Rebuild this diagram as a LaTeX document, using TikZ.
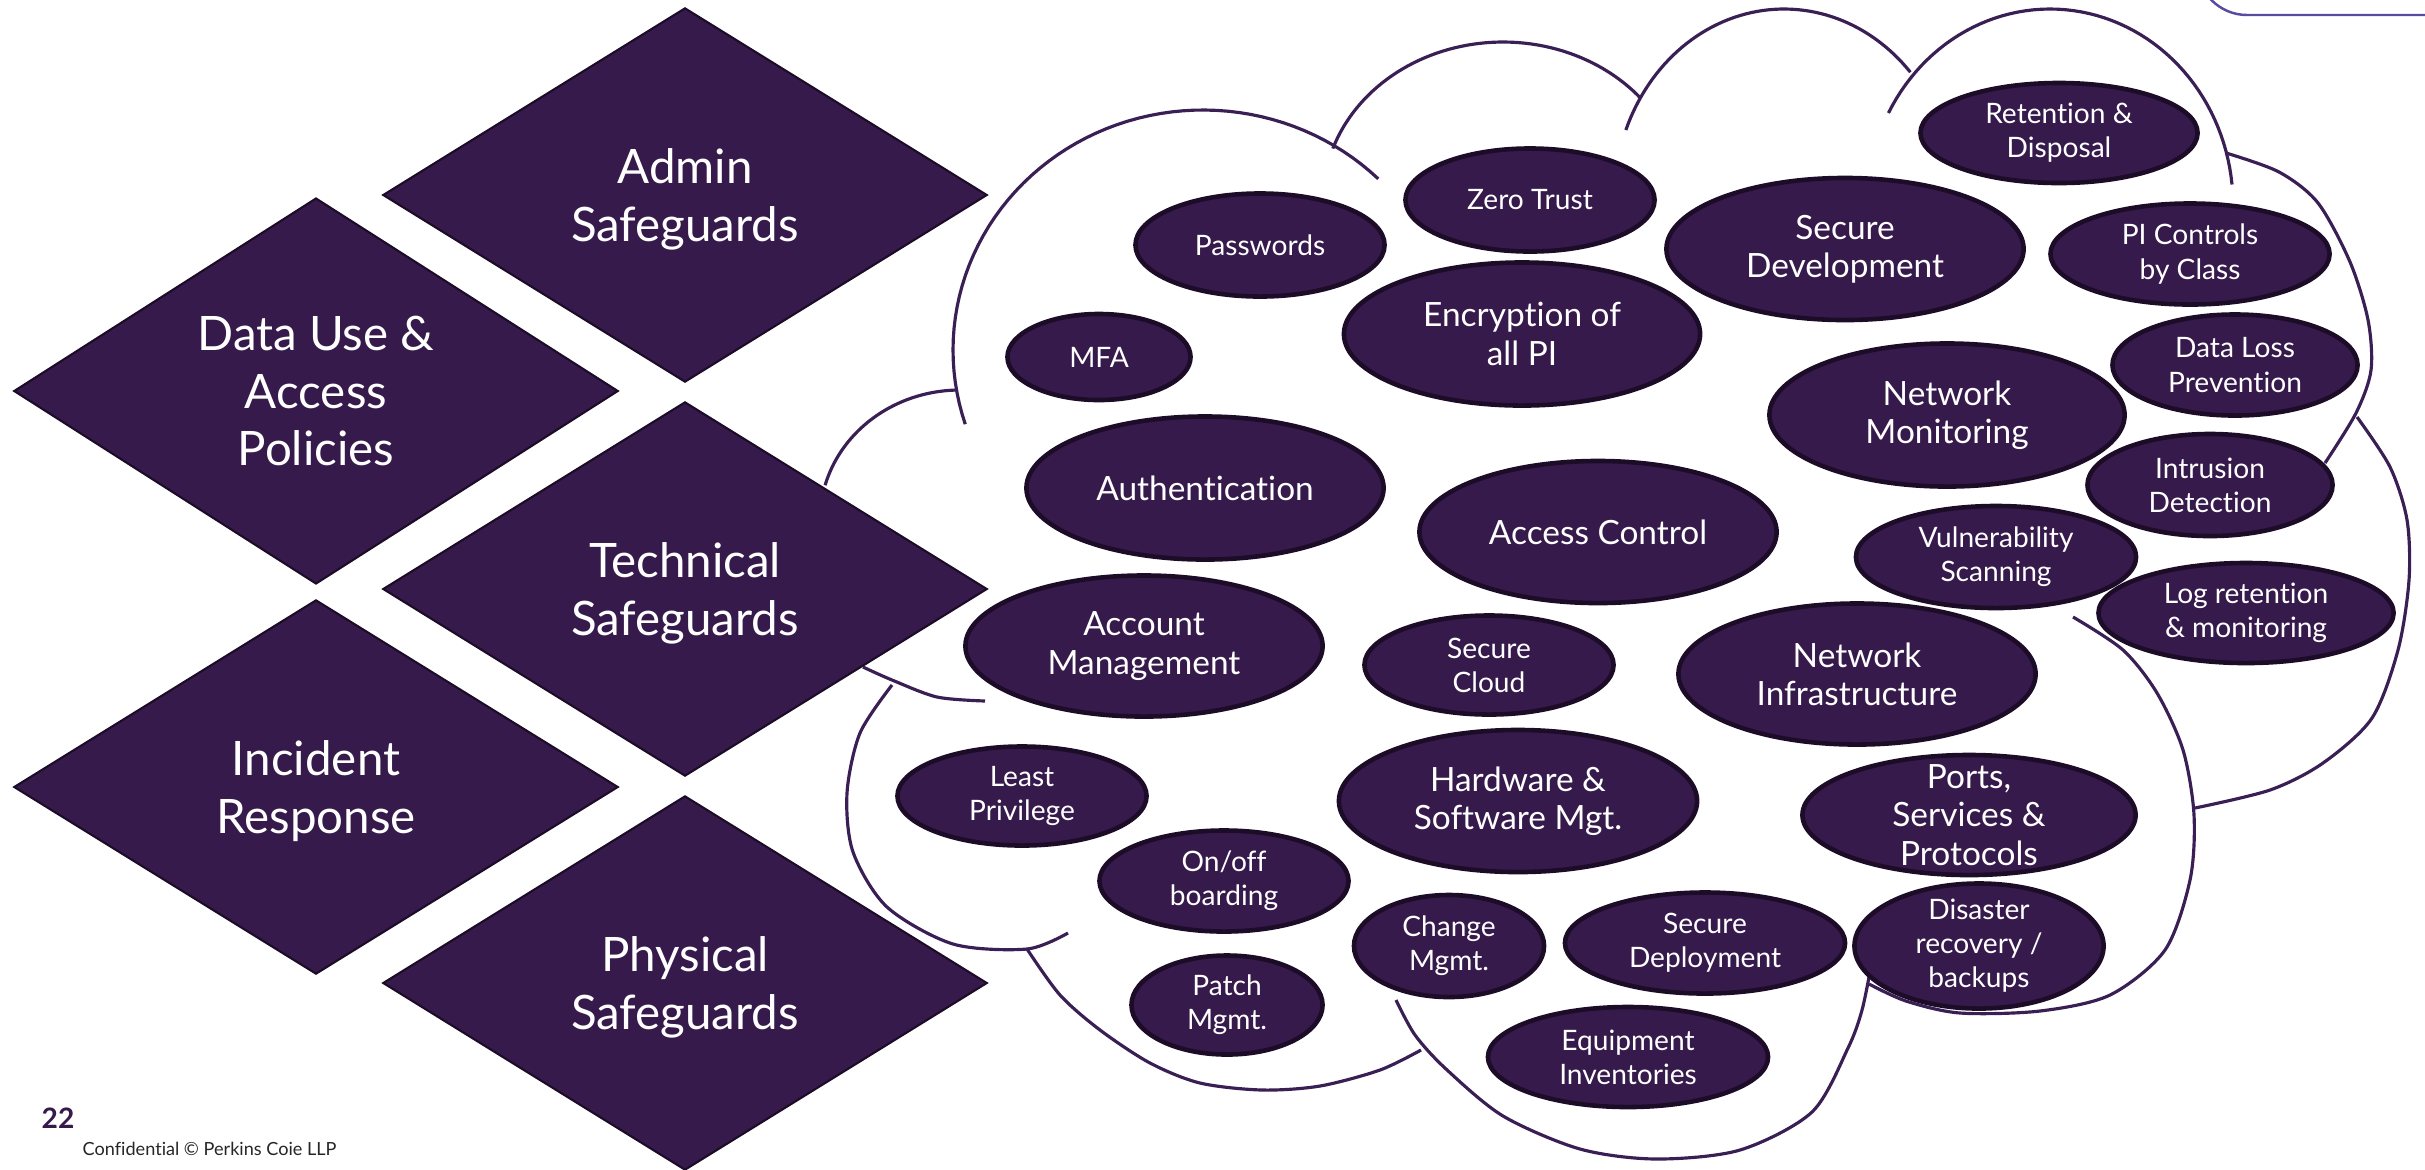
\documentclass[tikz,border=0pt]{standalone}
\usepackage{fontspec}
\setmainfont{Lato}[Ligatures=NoCommon]
\usetikzlibrary{shapes.geometric}
\definecolor{plum}{HTML}{361A4B}
\definecolor{plumedge}{HTML}{1C0C28}
\definecolor{cloudline}{HTML}{3A1F55}
\definecolor{framelilac}{HTML}{5B4BA0}
\newcommand\cloudlobe[6]{\draw[cloudarc] plot[domain=#5:#6, samples=60, variable=\t] ({#1+#3*cos(\t)}, {#2-#4*sin(\t)});}

\begin{document}
\begin{tikzpicture}[x=0.01cm, y=-0.01cm,
    pillar/.style={diamond, fill=plum, draw=plumedge, line width=0.6pt,
      minimum width=6.04cm, minimum height=3.74cm, inner sep=0pt, text depth=0pt,
      text=white, align=center, font=\fontsize{13.5}{16.3}\selectfont},
    topic/.style={ellipse, fill=plum, draw=plumedge, line width=1.3pt,
      inner xsep=0pt, inner ysep=-2pt, text=white, align=center},
    bigtext/.style={font=\fontsize{9.5}{10.9}\selectfont},
    smalltext/.style={font=\fontsize{8}{9.7}\selectfont}]
  \tikzstyle{cloudarc} = [draw=cloudline, line width=0.9pt]
  \useasboundingbox (0,0) rectangle (2425,1169);
  \begin{scope}
    \clip (0,0) rectangle (2425,1169);
    \draw[framelilac, line width=0.7pt, rounded corners=0.5cm] (2197,-80) |- (2500,15);
  \end{scope}

  % cloud outline
  \cloudlobe{960}{520}{140}{130}{92}{164.5}
  \cloudlobe{1203}{350}{250}{240}{45.5}{198}
  \cloudlobe{1503}{200}{180}{158}{40}{161}
  \cloudlobe{1784}{200}{170}{191}{42}{158.5}
  \cloudlobe{2050}{205}{183}{196}{6}{152}
  \draw[cloudarc] plot[smooth] coordinates {(2226,153) (2279,172) (2318,203) (2350,262) (2368,320) (2371,370) (2356,413) (2325,463)};
  \draw[cloudarc] plot[smooth] coordinates {(2357,417) (2390,467) (2407,520) (2409,580) (2398,650) (2372,718) (2323,763) (2270,790) (2195,808)};
  \draw[cloudarc] plot[smooth] coordinates {(2073,617) (2123,650) (2157,693) (2183,750) (2194,815) (2190,880) (2165,950) (2110,995) (2040,1011) (1960,1013) (1906,1001) (1869,984)};
  \draw[cloudarc] plot[smooth] coordinates {(1871,966) (1862,1010) (1848,1048) (1812,1112) (1740,1150) (1656,1159) (1580,1149) (1503,1116) (1446,1069) (1415,1035) (1396,1000)};
  \draw[cloudarc] plot[smooth] coordinates {(1421,1050) (1380,1070) (1320,1086) (1262,1090) (1200,1083) (1150,1063) (1100,1030) (1060,995) (1027,949)};
  \draw[cloudarc] plot[smooth] coordinates {(1068,933) (1027,949) (953,944) (887,907) (853,852) (847,793) (860,733) (892,685)};
  \draw[cloudarc] plot[smooth] coordinates {(863,667) (892,680) (937,697) (985,701)};

  % safeguard pillars
  \node[pillar] (admin) at (685,195) {Admin\\Safeguards};
  \node[pillar] (datause) at (316,391) {Data Use \&\\Access\\Policies};
  \node[pillar] (technical) at (685,589) {Technical\\Safeguards};
  \node[pillar] (incident) at (316,787) {Incident\\Response};
  \node[pillar] (physical) at (685,983) {Physical\\Safeguards};

  % controls
  \node[topic, smalltext, minimum width=2.77cm, minimum height=1.00cm] (retention) at (2059,133) {Retention \&\\Disposal};
  \node[topic, smalltext, minimum width=2.49cm, minimum height=1.03cm] (zerotrust) at (1530,200) {Zero Trust};
  \node[topic, smalltext, minimum width=2.49cm, minimum height=1.03cm] (passwords) at (1260,245) {Passwords};
  \node[topic, bigtext, minimum width=3.57cm, minimum height=1.42cm] (securedev) at (1845,249) {Secure\\Development};
  \node[topic, smalltext, minimum width=2.79cm, minimum height=1.01cm] (piclass) at (2190,254) {PI Controls\\by Class};
  \node[topic, bigtext, minimum width=3.56cm, minimum height=1.43cm] (encryption) at (1522,334) {Encryption of\\all PI};
  \node[topic, smalltext, minimum width=1.83cm, minimum height=0.86cm] (mfa) at (1099,357) {MFA};
  \node[topic, smalltext, minimum width=2.45cm, minimum height=1.01cm] (dataloss) at (2235,365) {Data Loss\\Prevention};
  \node[topic, bigtext, minimum width=3.55cm, minimum height=1.43cm] (netmon) at (1947,415) {Network\\Monitoring};
  \node[topic, bigtext, minimum width=3.57cm, minimum height=1.43cm] (authentication) at (1205,488) {Authentication};
  \node[topic, smalltext, minimum width=2.45cm, minimum height=1.02cm] (intrusion) at (2210,485) {Intrusion\\Detection};
  \node[topic, bigtext, minimum width=3.57cm, minimum height=1.42cm] (access) at (1598,532) {Access Control};
  \node[topic, smalltext, minimum width=2.80cm, minimum height=1.02cm] (vulnscan) at (1996,557) {Vulnerability\\Scanning};
  \node[topic, smalltext, minimum width=2.95cm, minimum height=1.00cm] (logret) at (2246,613) {Log retention\\\& monitoring};
  \node[topic, bigtext, minimum width=3.57cm, minimum height=1.41cm] (account) at (1144,646) {Account\\Management};
  \node[topic, smalltext, minimum width=2.49cm, minimum height=0.99cm] (securecloud) at (1489,665) {Secure\\Cloud};
  \node[topic, bigtext, minimum width=3.57cm, minimum height=1.41cm] (netinfra) at (1857,674) {Network\\Infrastructure};
  \node[topic, smalltext, minimum width=2.49cm, minimum height=0.99cm] (leastpriv) at (1022,796) {Least\\Privilege};
  \node[topic, bigtext, minimum width=3.58cm, minimum height=1.42cm] (hardware) at (1518,801) {Hardware \&\\Software Mgt.};
  \node[topic, bigtext, minimum width=3.33cm, minimum height=1.20cm, inner ysep=-0.16cm] (ports) at (1969,815) {Ports,\\Services \&\\Protocols};
  \node[topic, smalltext, minimum width=2.49cm, minimum height=1.01cm] (onoff) at (1224,881) {On/off\\boarding};
  \node[topic, smalltext, minimum width=1.90cm, minimum height=1.02cm] (change) at (1449,946) {Change\\Mgmt.};
  \node[topic, smalltext, minimum width=2.80cm, minimum height=1.01cm] (securedeploy) at (1705,943) {Secure\\Deployment};
  \node[topic, smalltext, minimum width=2.49cm, minimum height=1.25cm, inner ysep=-0.12cm] (disaster) at (1979,946) {Disaster\\recovery /\\backups};
  \node[topic, smalltext, minimum width=1.91cm, minimum height=0.99cm] (patch) at (1227,1005) {Patch\\Mgmt.};
  \node[topic, smalltext, minimum width=2.80cm, minimum height=1.00cm] (equipment) at (1628,1057) {Equipment\\Inventories};

  % footer
  \node[anchor=base west, inner sep=0pt, text=plum, font=\fontsize{8}{9}\selectfont\bfseries] (pagenum) at (41,1128) {22};
  \node[anchor=base west, inner sep=0pt, text=black!85, font=\fontsize{5.15}{6}\selectfont] (notice) at (82,1155) {Confidential © Perkins Coie LLP};
\end{tikzpicture}
\end{document}
